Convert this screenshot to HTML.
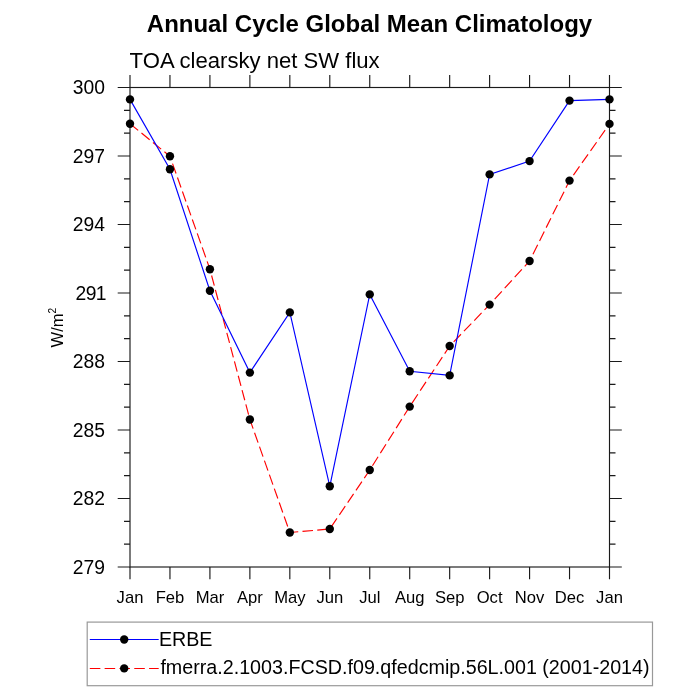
<!DOCTYPE html>
<html><head><meta charset="utf-8"><style>
html,body{margin:0;padding:0;background:#fff;}
svg{display:block;will-change:transform;font-family:"Liberation Sans", sans-serif;}
</style></head><body>
<svg width="700" height="700" viewBox="0 0 700 700">
<rect width="700" height="700" fill="#fff"/>
<rect x="130.0" y="87.5" width="479.5" height="479.5" fill="none" stroke="#1a1a1a" stroke-width="1.15"/>
<path d="M117.70 567.00H130.0M609.5 567.00H621.80M124.00 544.17H130.0M609.5 544.17H615.50M124.00 521.33H130.0M609.5 521.33H615.50M117.70 498.50H130.0M609.5 498.50H621.80M124.00 475.67H130.0M609.5 475.67H615.50M124.00 452.83H130.0M609.5 452.83H615.50M117.70 430.00H130.0M609.5 430.00H621.80M124.00 407.17H130.0M609.5 407.17H615.50M124.00 384.33H130.0M609.5 384.33H615.50M117.70 361.50H130.0M609.5 361.50H621.80M124.00 338.67H130.0M609.5 338.67H615.50M124.00 315.83H130.0M609.5 315.83H615.50M117.70 293.00H130.0M609.5 293.00H621.80M124.00 270.17H130.0M609.5 270.17H615.50M124.00 247.33H130.0M609.5 247.33H615.50M117.70 224.50H130.0M609.5 224.50H621.80M124.00 201.67H130.0M609.5 201.67H615.50M124.00 178.83H130.0M609.5 178.83H615.50M117.70 156.00H130.0M609.5 156.00H621.80M124.00 133.17H130.0M609.5 133.17H615.50M124.00 110.33H130.0M609.5 110.33H615.50M117.70 87.50H130.0M609.5 87.50H621.80M130.00 567.0V579.2M130.00 87.5V75.1M169.96 567.0V579.2M169.96 87.5V75.1M209.92 567.0V579.2M209.92 87.5V75.1M249.88 567.0V579.2M249.88 87.5V75.1M289.83 567.0V579.2M289.83 87.5V75.1M329.79 567.0V579.2M329.79 87.5V75.1M369.75 567.0V579.2M369.75 87.5V75.1M409.71 567.0V579.2M409.71 87.5V75.1M449.67 567.0V579.2M449.67 87.5V75.1M489.62 567.0V579.2M489.62 87.5V75.1M529.58 567.0V579.2M529.58 87.5V75.1M569.54 567.0V579.2M569.54 87.5V75.1M609.50 567.0V579.2M609.50 87.5V75.1" stroke="#1a1a1a" stroke-width="1.15" fill="none"/>
<text x="105" y="573.90" text-anchor="end" font-size="19.3">279</text>
<text x="105" y="505.40" text-anchor="end" font-size="19.3">282</text>
<text x="105" y="436.90" text-anchor="end" font-size="19.3">285</text>
<text x="105" y="368.40" text-anchor="end" font-size="19.3">288</text>
<text x="75.6" y="299.90" font-size="19.3" letter-spacing="-0.6">291</text>
<text x="105" y="231.40" text-anchor="end" font-size="19.3">294</text>
<text x="105" y="162.90" text-anchor="end" font-size="19.3">297</text>
<text x="105" y="94.40" text-anchor="end" font-size="19.3">300</text>
<text x="130.00" y="602.8" text-anchor="middle" font-size="16.6">Jan</text>
<text x="169.96" y="602.8" text-anchor="middle" font-size="16.6">Feb</text>
<text x="209.92" y="602.8" text-anchor="middle" font-size="16.6">Mar</text>
<text x="249.88" y="602.8" text-anchor="middle" font-size="16.6">Apr</text>
<text x="289.83" y="602.8" text-anchor="middle" font-size="16.6">May</text>
<text x="329.79" y="602.8" text-anchor="middle" font-size="16.6">Jun</text>
<text x="369.75" y="602.8" text-anchor="middle" font-size="16.6">Jul</text>
<text x="409.71" y="602.8" text-anchor="middle" font-size="16.6">Aug</text>
<text x="449.67" y="602.8" text-anchor="middle" font-size="16.6">Sep</text>
<text x="489.62" y="602.8" text-anchor="middle" font-size="16.6">Oct</text>
<text x="529.58" y="602.8" text-anchor="middle" font-size="16.6">Nov</text>
<text x="569.54" y="602.8" text-anchor="middle" font-size="16.6">Dec</text>
<text x="609.50" y="602.8" text-anchor="middle" font-size="16.6">Jan</text>
<text x="369.5" y="31.7" text-anchor="middle" font-size="24" font-weight="bold">Annual Cycle Global Mean Climatology</text>
<text x="129.6" y="67.9" font-size="22.1">TOA clearsky net SW flux</text>
<text transform="translate(62.9,327.6) rotate(-90)" text-anchor="middle" font-size="16.6">W/m<tspan font-size="10.2" dy="-7.3">2</tspan></text>
<polyline points="130.00,123.7 169.96,156.3 209.92,269.2 249.88,419.5 289.83,532.5 329.79,529.0 369.75,470.0 409.71,406.6 449.67,346.0 489.62,304.6 529.58,261.0 569.54,180.6 609.50,123.9" fill="none" stroke="#f00" stroke-width="1.15" stroke-dasharray="10.55 4.27"/>
<polyline points="130.00,99.4 169.96,169.3 209.92,290.8 249.88,372.6 289.83,312.4 329.79,486.3 369.75,294.4 409.71,371.2 449.67,375.4 489.62,174.4 529.58,161.1 569.54,100.6 609.50,99.4" fill="none" stroke="#00f" stroke-width="1.15"/>
<circle cx="130.00" cy="123.7" r="4.2"/>
<circle cx="169.96" cy="156.3" r="4.2"/>
<circle cx="209.92" cy="269.2" r="4.2"/>
<circle cx="249.88" cy="419.5" r="4.2"/>
<circle cx="289.83" cy="532.5" r="4.2"/>
<circle cx="329.79" cy="529.0" r="4.2"/>
<circle cx="369.75" cy="470.0" r="4.2"/>
<circle cx="409.71" cy="406.6" r="4.2"/>
<circle cx="449.67" cy="346.0" r="4.2"/>
<circle cx="489.62" cy="304.6" r="4.2"/>
<circle cx="529.58" cy="261.0" r="4.2"/>
<circle cx="569.54" cy="180.6" r="4.2"/>
<circle cx="609.50" cy="123.9" r="4.2"/>
<circle cx="130.00" cy="99.4" r="4.2"/>
<circle cx="169.96" cy="169.3" r="4.2"/>
<circle cx="209.92" cy="290.8" r="4.2"/>
<circle cx="249.88" cy="372.6" r="4.2"/>
<circle cx="289.83" cy="312.4" r="4.2"/>
<circle cx="329.79" cy="486.3" r="4.2"/>
<circle cx="369.75" cy="294.4" r="4.2"/>
<circle cx="409.71" cy="371.2" r="4.2"/>
<circle cx="449.67" cy="375.4" r="4.2"/>
<circle cx="489.62" cy="174.4" r="4.2"/>
<circle cx="529.58" cy="161.1" r="4.2"/>
<circle cx="569.54" cy="100.6" r="4.2"/>
<circle cx="609.50" cy="99.4" r="4.2"/>
<rect x="87.2" y="622.1" width="565.3" height="63.6" fill="none" stroke="#999" stroke-width="1.2"/>
<path d="M89.8 639.55H158.7" stroke="#00f" stroke-width="1.05"/>
<path d="M89.8 668.45H158.7" stroke="#f00" stroke-width="1.05" stroke-dasharray="10.55 4.27"/>
<circle cx="124.2" cy="639.5" r="4.2"/><circle cx="124.2" cy="668.4" r="4.2"/>
<text x="158.9" y="646.4" font-size="19.7">ERBE</text>
<text x="160.4" y="673.8" font-size="19.7">fmerra.2.1003.FCSD.f09.qfedcmip.56L.001 (2001-2014)</text>
</svg></body></html>
